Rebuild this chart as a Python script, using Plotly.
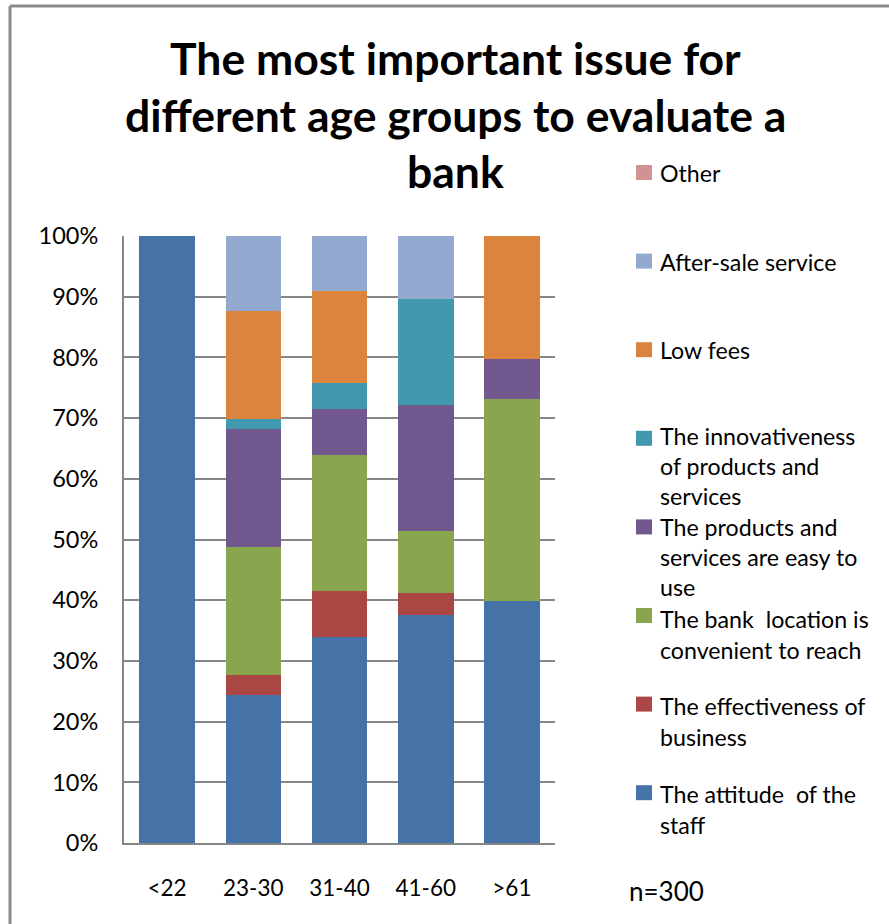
import plotly.graph_objects as go

# ---------------- data ----------------
categories = ["<22", "23-30", "31-40", "41-60", ">61"]

staff         = [1.000, 0.244, 0.339, 0.375, 0.399]
effectiveness = [0.000, 0.033, 0.076, 0.037, 0.000]
location      = [0.000, 0.211, 0.224, 0.102, 0.332]
easy_to_use   = [0.000, 0.194, 0.076, 0.207, 0.066]
innovative    = [0.000, 0.016, 0.043, 0.175, 0.000]
low_fees      = [0.000, 0.178, 0.151, 0.000, 0.203]
after_sale    = [0.000, 0.124, 0.091, 0.104, 0.000]
other         = [0.000, 0.000, 0.000, 0.000, 0.000]

series_names = [
    "The attitude  of the<br>staff",
    "The effectiveness of<br>business",
    "The bank  location is<br>convenient to reach",
    "The products and<br>services are easy to<br>use",
    "The innovativeness<br>of products and<br>services",
    "Low fees",
    "After-sale service",
    "Other",
]
series_values = [staff, effectiveness, location, easy_to_use, innovative,
                 low_fees, after_sale, other]
series_colors = ["#4572A7", "#AA4643", "#89A54E", "#71588F", "#4198AF",
                 "#DB843D", "#93A9CF", "#D19392"]

title_lines = ["The most important issue for",
               "different age groups to evaluate a",
               "bank"]
note_text = "n=300"

# ---------------- layout geometry ----------------
W, H = 889, 924
PL, PR, PT, PB = 124, 555, 236, 843   # plot area in page pixels
FONT = "Lato, 'Open Sans', sans-serif"


def px2x(px):
    return (px - PL) / (PR - PL)


def py2y(py):
    return (PB - py) / (PB - PT)


fig = go.Figure()
for name, vals, col in zip(series_names, series_values, series_colors):
    fig.add_trace(go.Bar(x=categories, y=vals, name=name.replace("<br>", " "),
                         marker=dict(color=col, line=dict(width=0)),
                         showlegend=False))

shapes = []
annotations = []

# outer chart border (left + top)
shapes.append(dict(type="line", xref="paper", yref="paper",
                   x0=px2x(10), x1=px2x(889), y0=py2y(6), y1=py2y(6),
                   line=dict(color="#8a8a8a", width=3)))
shapes.append(dict(type="line", xref="paper", yref="paper",
                   x0=px2x(10), x1=px2x(10), y0=py2y(6), y1=py2y(924),
                   line=dict(color="#8a8a8a", width=3)))

# title
title_y = [58, 114, 170]
for line, ty in zip(title_lines, title_y):
    annotations.append(dict(text="<b>" + line + "</b>", xref="paper", yref="paper",
                            x=px2x(455), y=py2y(ty), xanchor="center", yanchor="middle",
                            showarrow=False, font=dict(family=FONT, size=44.5, color="black")))

# custom legend (top entry = last series)
leg_y0 = 173
leg_step = 88.6
# per-entry (vertical nudge, line spacing), bottom-to-top order like series_names
entry_pos = [(1, 31.0), (1, 31.0), (3, 31.0), (0, 30.0), (-3, 30.0), (0, 31.0), (0, 31.0), (0, 31.0)]
for i, (name, col, (nd, step)) in enumerate(zip(series_names[::-1], series_colors[::-1],
                                                entry_pos[::-1])):
    cy = leg_y0 + i * leg_step
    shapes.append(dict(type="rect", xref="paper", yref="paper",
                       x0=px2x(636), x1=px2x(652), y0=py2y(cy - 8), y1=py2y(cy + 7),
                       fillcolor=col, line=dict(width=0)))
    for j, part in enumerate(name.split("<br>")):
        annotations.append(dict(text=part, xref="paper", yref="paper",
                                x=px2x(658), y=py2y(cy + nd + j * step),
                                xanchor="left", yanchor="middle", showarrow=False,
                                font=dict(family=FONT, size=23.2, color="black")))

annotations.append(dict(text=note_text, xref="paper", yref="paper",
                        x=px2x(627), y=py2y(891), xanchor="left", yanchor="middle",
                        showarrow=False, font=dict(family=FONT, size=26, color="black")))

fig.update_layout(
    width=W, height=H, autosize=False,
    margin=dict(l=PL, r=W - PR, t=PT, b=H - PB, pad=0),
    paper_bgcolor="white", plot_bgcolor="white",
    barmode="stack", bargap=0.355,
    font=dict(family=FONT, color="black"),
    shapes=shapes, annotations=annotations,
    xaxis=dict(showgrid=False, showline=True, linecolor="#868686", linewidth=2,
               ticks="", tickfont=dict(family=FONT, size=22.5, color="black"),
               ticklabelstandoff=24, fixedrange=True),
    yaxis=dict(range=[0, 1], dtick=0.1, tickformat=".0%",
               showgrid=True, gridcolor="#868686", gridwidth=2,
               showline=True, linecolor="#868686", linewidth=2,
               zeroline=False, ticks="",
               tickfont=dict(family=FONT, size=23.5, color="black"),
               ticklabelstandoff=19, fixedrange=True),
)

fig.write_html("out.html",
               config={"displayModeBar": False},
               post_script="document.body.style.margin='0';"
                           "document.body.style.overflow='hidden';")
